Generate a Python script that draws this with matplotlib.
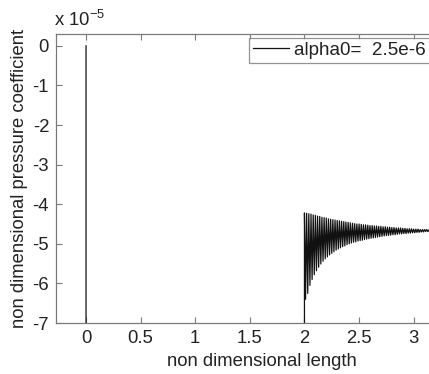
import numpy as np
import matplotlib
matplotlib.use("Agg")
import matplotlib.pyplot as plt

plt.rcParams['font.family'] = ['Liberation Sans', 'DejaVu Sans']
plt.rcParams['axes.unicode_minus'] = False

# values in units of 1e-5
x_start = [0.0, 0.0, 2.0]
y_start = [0.0, -7.2, -7.2]

# upper peaks at x = 2.00, 2.02, ..., 3.14
upper_peaks = [-4.22, -4.23, -4.24, -4.25, -4.27, -4.28, -4.30, -4.31, -4.33, -4.34,
               -4.35, -4.37, -4.38, -4.39, -4.40, -4.41, -4.42, -4.43, -4.44, -4.45,
               -4.46, -4.47, -4.48, -4.49, -4.50, -4.50, -4.51, -4.52, -4.52, -4.53,
               -4.54, -4.54, -4.55, -4.55, -4.56, -4.56, -4.57, -4.57, -4.58, -4.58,
               -4.59, -4.59, -4.60, -4.60, -4.60, -4.61, -4.61, -4.62, -4.62, -4.62,
               -4.63, -4.63, -4.63, -4.64, -4.64, -4.64, -4.64, -4.65]
# lower peaks at x = 2.01, 2.03, ..., 3.13
lower_peaks = [-6.40, -6.25, -6.05, -5.90, -5.78, -5.68, -5.59, -5.51, -5.44, -5.38,
               -5.33, -5.28, -5.24, -5.20, -5.16, -5.13, -5.10, -5.07, -5.05, -5.02,
               -5.00, -4.98, -4.96, -4.95, -4.93, -4.92, -4.91, -4.89, -4.88, -4.87,
               -4.86, -4.85, -4.84, -4.83, -4.82, -4.81, -4.80, -4.79, -4.79, -4.78,
               -4.77, -4.77, -4.76, -4.75, -4.75, -4.74, -4.74, -4.73, -4.73, -4.72,
               -4.72, -4.71, -4.71, -4.70, -4.70, -4.69, -4.69]
peak_step = 0.01
legend_label = 'alpha0=  2.5e-6'

# interleave upper and lower peaks
osc_y = []
for i in range(len(upper_peaks)):
    osc_y.append(upper_peaks[i])
    if i < len(lower_peaks):
        osc_y.append(lower_peaks[i])
osc_x = 2.0 + peak_step * np.arange(len(osc_y))

x = np.concatenate([x_start, osc_x])
y = np.concatenate([y_start, osc_y])

fs = 13.3
fig = plt.figure(figsize=(4.29, 3.74), dpi=100)
ax = fig.add_axes([56 / 429, 51 / 374, 0.961, 289 / 374])

ax.plot(x, y, color='#111111', linewidth=0.9, label=legend_label)
ax.set_xlim(-0.275, 3.5)
ax.set_ylim(-7.0, 0.3)
ax.set_xticks([0, 0.5, 1, 1.5, 2, 2.5, 3])
ax.set_xticklabels(['0', '0.5', '1', '1.5', '2', '2.5', '3'])
ax.set_yticks([0, -1, -2, -3, -4, -5, -6, -7])

gray = '#7a7a7a'
txt = '#222222'
for s in ax.spines.values():
    s.set_color(gray)
    s.set_linewidth(0.9)
ax.tick_params(direction='in', length=4, width=0.8, color=gray, labelcolor=txt,
               labelsize=fs, top=True, right=True)
ax.tick_params(axis='x', pad=5)
ax.tick_params(axis='y', pad=5)

ax.set_xlabel('non dimensional length', fontsize=fs, color=txt, labelpad=4)
ax.set_ylabel('non dimensional pressure coefficient', fontsize=fs, color=txt, labelpad=3)
ax.text(-0.005, 1.015, r'x 10$^{\mathregular{-5}}$', transform=ax.transAxes, fontsize=fs,
        color=txt, ha='left', va='bottom')

leg = ax.legend(loc='upper left', bbox_to_anchor=(249 / 429, 1 - 38 / 374),
                bbox_transform=fig.transFigure, fontsize=13.6, frameon=True,
                fancybox=False, borderaxespad=0, handlelength=1.9, handletextpad=0.3,
                borderpad=0.2)
leg.get_frame().set_edgecolor(gray)
leg.get_frame().set_linewidth(0.9)
for t in leg.get_texts():
    t.set_color(txt)

fig.savefig('out.png', dpi=100)
